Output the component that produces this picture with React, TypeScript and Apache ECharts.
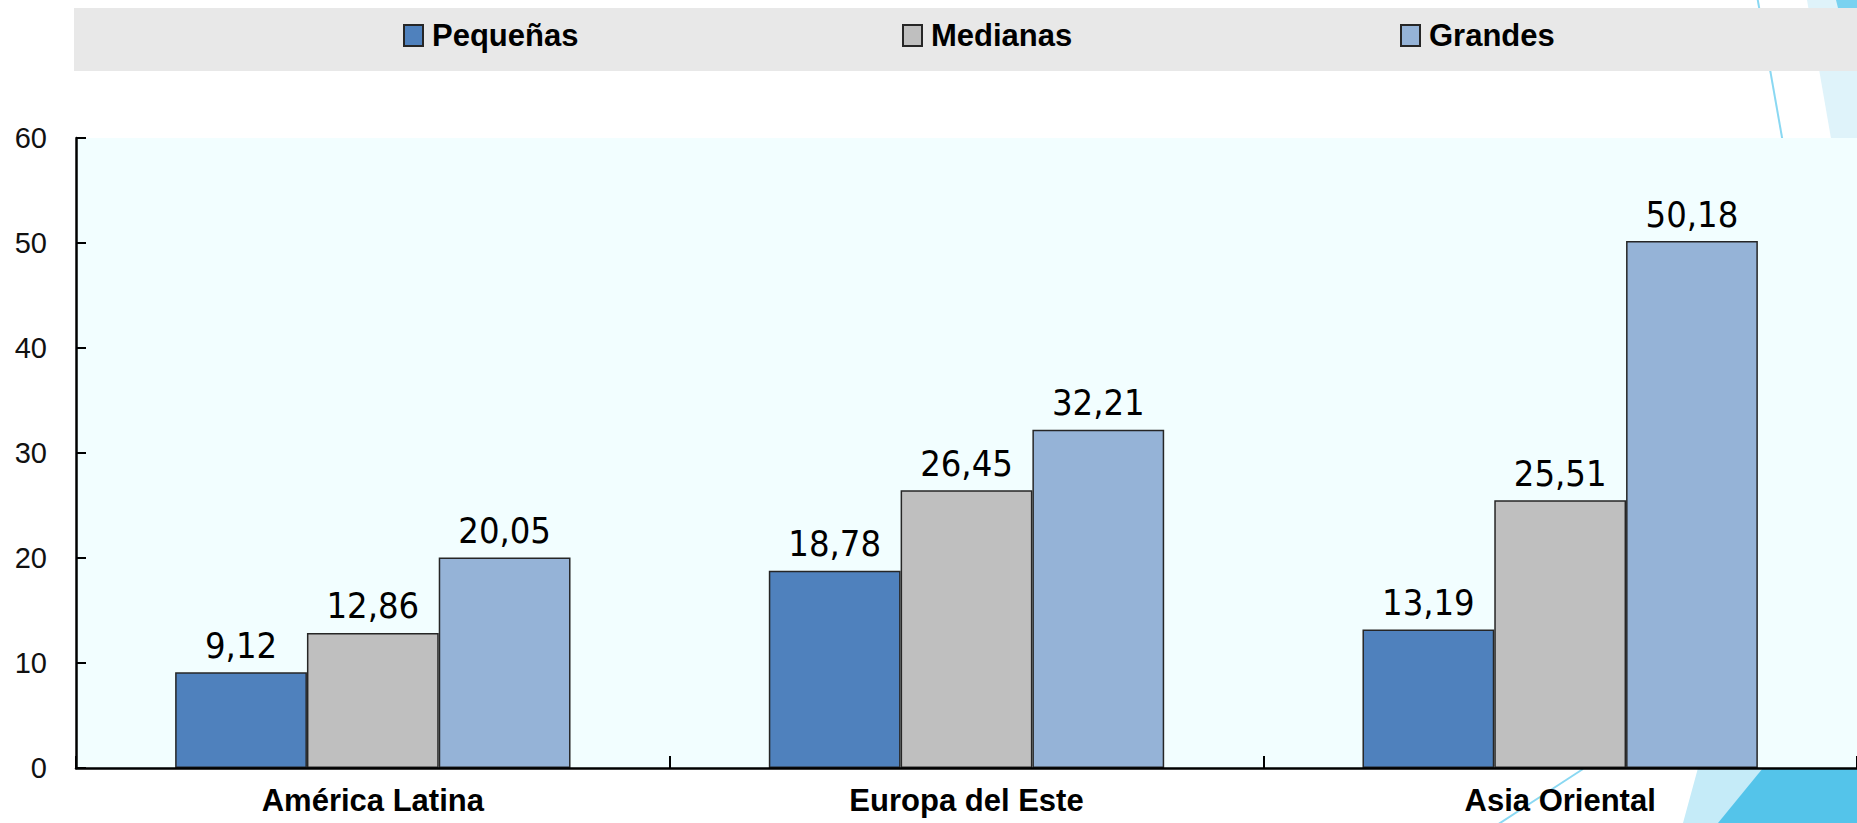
import React, { useEffect, useRef } from "react";
import * as echarts from "echarts";

const categories = ["América Latina", "Europa del Este", "Asia Oriental"];
const seriesNames = ["Pequeñas", "Medianas", "Grandes"];
const pequenas = [9.12, 18.78, 13.19];
const medianas = [12.86, 26.45, 25.51];
const grandes = [20.05, 32.21, 50.18];
const seriesColors = ["#4F81BD", "#BFBFBF", "#95B3D7"];
const yMin = 0;
const yMax = 60;
const yInterval = 10;

const fmt = (v: number) => v.toFixed(2).replace(".", ",");

export default function App() {
  const ref = useRef<HTMLDivElement>(null);
  useEffect(() => {
    if (!ref.current) return;
    const chart = echarts.init(ref.current, null, { renderer: "svg" });
    const values = [pequenas, medianas, grandes];
    const legendLefts = [403, 902, 1400];
    const option: any = {
      animation: false,
      backgroundColor: "#FFFFFF",
      graphic: [
        { type: "line", shape: { x1: 1756, y1: -10, x2: 1786, y2: 160 }, style: { stroke: "#8AD8F2", lineWidth: 2 }, z: 0 },
        { type: "polygon", shape: { points: [[1807, 0], [1857, 0], [1857, 150], [1833, 150]] }, style: { fill: "#DFF3FA" }, z: 0 },
        { type: "polygon", shape: { points: [[1836, 0], [1857, 0], [1857, 71], [1854, 71]] }, style: { fill: "#79D2F0" }, z: 0 },
        { type: "rect", shape: { x: 74, y: 8, width: 1783, height: 63 }, style: { fill: "#E8E8E8" }, z: 0 },
        { type: "polygon", shape: { points: [[1698, 768], [1857, 768], [1857, 823], [1683, 823]] }, style: { fill: "#C5EBF8" }, z: 0 },
        { type: "polygon", shape: { points: [[1763, 768], [1857, 768], [1857, 823], [1718, 823]] }, style: { fill: "#54C4EA" }, z: 0 },
        { type: "line", shape: { x1: 1583, y1: 769, x2: 1497, y2: 825 }, style: { stroke: "#8AD8F2", lineWidth: 2 }, z: 0 },
        { type: "rect", shape: { x: 76, y: 138, width: 1781, height: 630 }, style: { fill: "#F2FEFF" }, z: 0 },
      ],
      legend: seriesNames.map((n, i) => ({
        data: [n],
        left: legendLefts[i],
        top: 20,
        padding: 0,
        itemWidth: 19,
        itemHeight: 21,
        icon: "rect",
        selectedMode: false,
        textStyle: {
          fontFamily: "Liberation Sans, Arial, sans-serif",
          fontWeight: "bold",
          fontSize: 31,
          color: "#000",
          padding: [0, 0, 0, 4],
        },
      })),
      grid: { left: 76, right: -11, top: 138, bottom: 55, containLabel: false },
      xAxis: {
        type: "category",
        data: categories,
        z: 10,
        axisLine: { show: true, lineStyle: { color: "#000", width: 2.5 } },
        axisTick: { show: true, inside: true, length: 12, lineStyle: { color: "#000", width: 2 } },
        axisLabel: {
          margin: 17,
          fontFamily: "Liberation Sans, Arial, sans-serif",
          fontWeight: "bold",
          fontSize: 31,
          color: "#000",
        },
        splitLine: { show: false },
      },
      yAxis: {
        type: "value",
        min: yMin,
        max: yMax,
        interval: yInterval,
        z: 10,
        axisLine: { show: true, lineStyle: { color: "#000", width: 2.5 } },
        axisTick: { show: true, inside: true, length: 10, lineStyle: { color: "#000", width: 2 } },
        axisLabel: {
          margin: 29,
          fontFamily: "Liberation Sans, Arial, sans-serif",
          fontSize: 29,
          color: "#111",
        },
        splitLine: { show: false },
      },
      series: seriesNames.map((n, i) => ({
        name: n,
        type: "bar",
        data: values[i],
        barGap: "0%",
        barCategoryGap: "33.4%",
        itemStyle: { color: seriesColors[i], borderColor: "#262626", borderWidth: 1.5 },
        label: {
          show: true,
          position: "top",
          distance: 9,
          formatter: (p: any) => fmt(p.value),
          fontFamily: "DejaVu Sans Condensed",
          fontSize: 36,
          lineHeight: 36,
          color: "#000",
        },
      })),
    };
    chart.setOption(option);
    return () => chart.dispose();
  }, []);
  return (
    <div
      ref={ref}
      style={{ position: "absolute", left: 0, top: 0, width: 1857, height: 823 }}
    />
  );
}
